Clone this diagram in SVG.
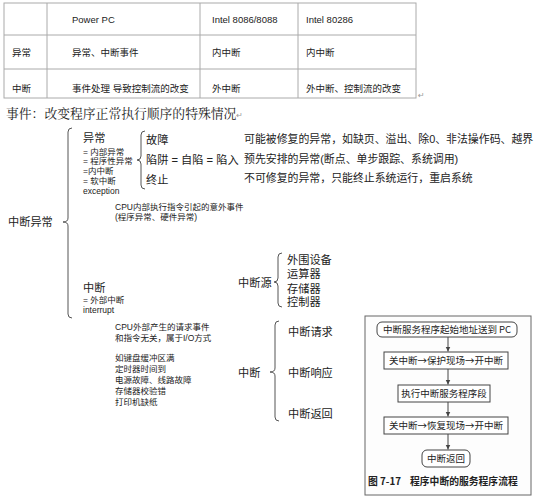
<svg xmlns="http://www.w3.org/2000/svg" width="538" height="500" viewBox="0 0 538 500">
<style>
.t{font-family:"Liberation Sans","Noto Sans CJK SC",sans-serif;fill:#222}
.tb{font-size:9.5px}
.h{font-size:11.2px}
.m{font-size:10.9px}
.s{font-size:8.5px}
.br{fill:none;stroke:#555;stroke-width:1}
.grid{stroke:#aaa;stroke-width:1;fill:none}
.fb{fill:#fff;stroke:#444;stroke-width:1}
.ft{font-family:"Noto Sans CJK SC",sans-serif;font-size:9.5px;fill:#222;text-anchor:middle}
.fl{stroke:#444;stroke-width:1;fill:none}
</style>
<defs>
<marker id="ah" markerWidth="6" markerHeight="6" refX="5" refY="3" orient="auto" markerUnits="userSpaceOnUse">
<path d="M0,0.5 L5,3 L0,5.5 Z" fill="#444"/>
</marker>
</defs>
<g id="table">
<rect class="grid" x="4" y="3" width="412" height="95"/>
<line class="grid" x1="4" y1="35" x2="416" y2="35"/>
<line class="grid" x1="4" y1="69" x2="416" y2="69"/>
<line class="grid" x1="47" y1="3" x2="47" y2="98"/>
<line class="grid" x1="200" y1="3" x2="200" y2="98"/>
<line class="grid" x1="298" y1="3" x2="298" y2="98"/>
<text class="t tb" x="72" y="22.5">Power PC</text>
<text class="t tb" x="212" y="22.5">Intel 8086/8088</text>
<text class="t tb" x="306" y="22.5">Intel 80286</text>
<text class="t tb" x="12" y="56">异常</text>
<text class="t tb" x="72" y="56">异常、中断事件</text>
<text class="t tb" x="212" y="56">内中断</text>
<text class="t tb" x="306" y="56">内中断</text>
<text class="t tb" x="12" y="92">中断</text>
<text class="t tb" x="72" y="92">事件处理 导致控制流的改变</text>
<text class="t tb" x="212" y="92">外中断</text>
<text class="t tb" x="306" y="92">外中断、控制流的改变</text>
<text x="418" y="98" style="font-family:'DejaVu Sans',sans-serif;font-size:8px;fill:#999">↵</text>
</g>
<g id="title">
<text x="6" y="118" style="font-family:'Noto Serif CJK SC','Liberation Serif','Noto Sans CJK SC',serif;font-size:12.8px;fill:#222">事件：改变程序正常执行顺序的特殊情况<tspan style="font-size:8px;fill:#999">↵</tspan></text>
</g>
<g id="braces">
<path class="br" d="M72,128 Q68,128 68,132 L68,218 Q68,222 63,222 Q68,222 68,226 L68,314 Q68,318 72,318"/>
<path class="br" d="M145,131 Q141,131 141,135 L141,156 Q141,160 137,160 Q141,160 141,164 L141,185 Q141,189 145,189"/>
<path class="br" d="M282,253 Q278,253 278,257 L278,278 Q278,282 274,282 Q278,282 278,286 L278,303 Q278,307 282,307"/>
<path class="br" d="M279,321 Q275,321 275,325 L275,368 Q275,372 270,372 Q275,372 275,376 L275,417 Q275,421 279,421"/>
</g>
<g id="root">
<text class="t h" x="8" y="226">中断异常</text>
</g>
<g id="exception">
<text class="t h" x="83" y="141.5">异常</text>
<text class="t s" x="83" y="154.5">= 内部异常</text>
<text class="t s" x="83" y="164">= 程序性异常</text>
<text class="t s" x="83" y="174">=内中断</text>
<text class="t s" x="83" y="184">= 软中断</text>
<text class="t s" x="83" y="194">exception</text>
<text class="t s" x="115" y="210">CPU内部执行指令引起的意外事件</text>
<text class="t s" x="115" y="220">(程序异常、硬件异常)</text>
</g>
<g id="exception-types">
<text class="t h" x="146" y="144">故障</text>
<text class="t h" x="146" y="164">陷阱 = 自陷 = 陷入</text>
<text class="t h" x="146" y="184">终止</text>
<text class="t m" x="244" y="143">可能被修复的异常，如缺页、溢出、除0、非法操作码、越界</text>
<text class="t m" x="244" y="163">预先安排的异常(断点、单步跟踪、系统调用)</text>
<text class="t m" x="244" y="182">不可修复的异常，只能终止系统运行，重启系统</text>
</g>
<g id="interrupt">
<text class="t h" x="83" y="291.5">中断</text>
<text class="t s" x="83" y="302.5">= 外部中断</text>
<text class="t s" x="83" y="313">interrupt</text>
<text class="t s" x="115" y="330">CPU外部产生的请求事件</text>
<text class="t s" x="115" y="341">和指令无关，属于I/O方式</text>
<text class="t s" x="115" y="360.5">如键盘缓冲区满</text>
<text class="t s" x="115" y="371.5">定时器时间到</text>
<text class="t s" x="115" y="382.5">电源故障、线路故障</text>
<text class="t s" x="115" y="393.5">存储器校验错</text>
<text class="t s" x="115" y="404.5">打印机缺纸</text>
</g>
<g id="sources">
<text class="t h" x="238" y="286.5">中断源</text>
<text class="t h" x="287" y="263.5">外围设备</text>
<text class="t h" x="287" y="278">运算器</text>
<text class="t h" x="287" y="292.5">存储器</text>
<text class="t h" x="287" y="305.5">控制器</text>
</g>
<g id="stages">
<text class="t h" x="238" y="376.5">中断</text>
<text class="t h" x="288" y="335.5">中断请求</text>
<text class="t h" x="288" y="376.5">中断响应</text>
<text class="t h" x="288" y="417.5">中断返回</text>
</g>
<g id="flowchart">
<rect x="365" y="316" width="166" height="179" fill="#fdfdfd" stroke="#666" stroke-width="1"/>
<g id="f1"><rect class="fb" x="377" y="322" width="140" height="15" rx="5"/><text class="ft" x="447" y="333">中断服务程序起始地址送到 PC</text></g>
<g id="f2"><rect class="fb" x="384" y="352" width="124" height="17"/><text class="ft" x="446" y="364">关中断→保护现场→开中断</text></g>
<g id="f3"><rect class="fb" x="398" y="385" width="92" height="17"/><text class="ft" x="444" y="397">执行中断服务程序段</text></g>
<g id="f4"><rect class="fb" x="384" y="417" width="124" height="17"/><text class="ft" x="446" y="429">关中断→恢复现场→开中断</text></g>
<g id="f5"><rect class="fb" x="422" y="450" width="48" height="17" rx="5"/><text class="ft" x="446" y="462">中断返回</text></g>
<g id="connectors">
<line class="fl" x1="448" y1="337" x2="448" y2="351.5" marker-end="url(#ah)"/>
<line class="fl" x1="448" y1="369" x2="448" y2="384.5" marker-end="url(#ah)"/>
<line class="fl" x1="448" y1="402" x2="448" y2="416.5" marker-end="url(#ah)"/>
<line class="fl" x1="448" y1="434" x2="448" y2="449.5" marker-end="url(#ah)"/>
</g>
<text x="368" y="485" style="font-family:'Noto Sans CJK SC',sans-serif;font-size:9.8px;font-weight:bold;fill:#222">图 7-17<tspan dx="9">程序中断的服务程序流程</tspan></text>
</g>
</svg>
